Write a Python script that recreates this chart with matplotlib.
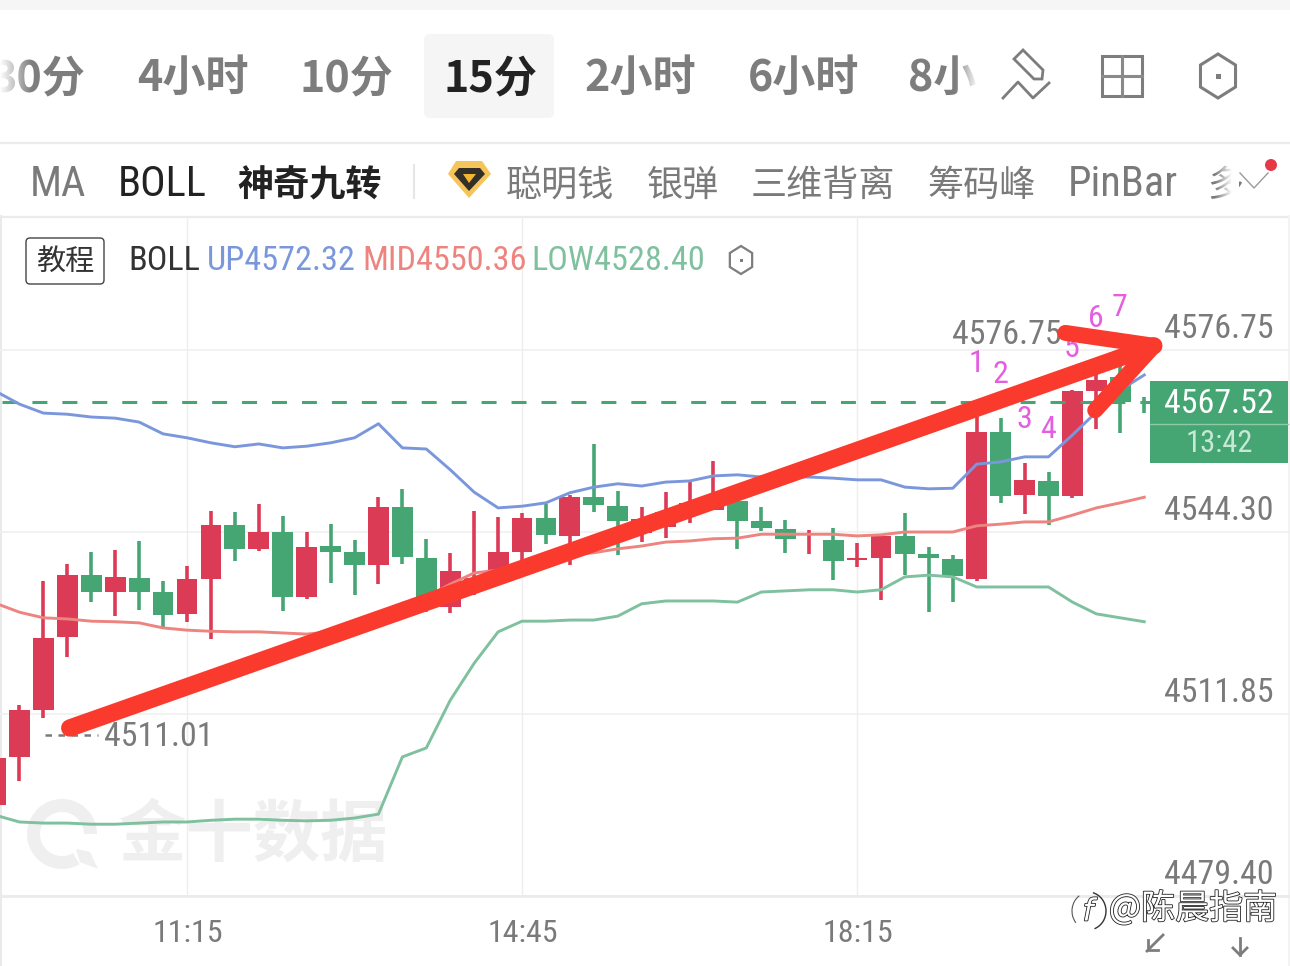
import matplotlib
matplotlib.use("Agg")
import numpy as np
import matplotlib.pyplot as plt
from matplotlib import font_manager
from matplotlib.patches import Rectangle, FancyBboxPatch, Polygon, Wedge, Circle, Arc
import matplotlib.patheffects as pe

# candle data, index 7 = 11:15, one candle = 15 min, "up" candles are red
candle_idx = list(range(-1, 48))
body_top = [4504.0, 4512.6, 4525.4, 4536.6, 4536.6, 4536.3, 4536.1, 4533.6, 4535.9, 4545.5,
            4545.5, 4544.3, 4544.3, 4541.6, 4541.8, 4540.7, 4548.8, 4548.8, 4539.7, 4537.3,
            4536.1, 4540.7, 4546.8, 4546.8, 4550.5, 4550.5, 4548.9, 4546.6, 4547.9, 4549.5,
            4550.5, 4549.8, 4546.3, 4544.8, 4543.1, 4542.9, 4539.7, 4543.6, 4543.6, 4540.4,
            4539.5, 4562.1, 4562.1, 4553.6, 4553.4, 4569.4, 4571.4, 4571.9, 4567.5]
body_bot = [4495.6, 4504.2, 4512.6, 4525.6, 4533.6, 4533.6, 4533.6, 4529.5, 4529.7, 4535.9,
            4541.3, 4541.3, 4532.7, 4532.7, 4540.7, 4538.4, 4538.4, 4539.8, 4532.2, 4530.9,
            4534.0, 4536.6, 4540.7, 4543.8, 4543.6, 4549.1, 4546.3, 4544.1, 4545.2, 4547.3,
            4548.2, 4546.3, 4545.0, 4543.1, 4543.0, 4539.1, 4539.3, 4539.7, 4540.4, 4539.7,
            4536.5, 4535.9, 4550.7, 4550.9, 4550.7, 4550.7, 4569.4, 4567.5, 4567.4]
wick_high = [4504.0, 4513.5, 4535.6, 4538.6, 4540.7, 4541.1, 4542.7, 4535.6, 4538.2, 4548.0,
             4547.9, 4549.3, 4547.2, 4544.3, 4545.7, 4542.9, 4550.5, 4552.0, 4543.1, 4540.6,
             4548.0, 4547.0, 4547.7, 4549.3, 4550.9, 4560.0, 4551.6, 4548.8, 4551.4, 4553.2,
             4557.0, 4550.4, 4548.8, 4546.4, 4544.7, 4545.0, 4542.3, 4543.8, 4547.7, 4541.6,
             4540.2, 4567.3, 4564.6, 4556.6, 4555.0, 4569.6, 4573.2, 4574.1, 4568.4]
wick_low = [4495.6, 4499.9, 4511.1, 4522.0, 4531.8, 4529.3, 4530.4, 4527.2, 4528.3, 4525.2,
            4539.1, 4540.9, 4530.2, 4532.4, 4535.2, 4533.1, 4535.0, 4538.6, 4530.0, 4529.9,
            4533.1, 4534.8, 4538.1, 4542.2, 4538.4, 4547.9, 4540.2, 4542.5, 4543.2, 4545.9,
            4548.2, 4541.3, 4544.5, 4540.6, 4540.4, 4535.7, 4538.1, 4532.2, 4536.6, 4530.0,
            4531.8, 4535.6, 4549.5, 4547.5, 4545.5, 4550.4, 4562.7, 4562.0, 4565.5]
is_up = [1, 1, 1, 1, 0, 1, 0, 0, 1, 1,
         0, 1, 0, 1, 0, 0, 1, 0, 0, 1,
         1, 1, 1, 0, 1, 0, 0, 1, 1, 1,
         1, 0, 0, 0, 1, 0, 1, 1, 0, 0,
         0, 1, 0, 1, 0, 1, 1, 0, 0]

boll_up = [4569.4, 4567.1, 4565.5, 4565.3, 4564.8, 4564.6, 4563.9, 4561.8, 4561.1, 4560.2,
           4559.5, 4560.0, 4559.3, 4559.6, 4560.2, 4561.1, 4563.6, 4559.3, 4559.1, 4555.4,
           4551.4, 4548.6, 4548.9, 4549.5, 4551.3, 4552.3, 4552.9, 4552.5, 4553.2, 4553.4,
           4554.3, 4554.5, 4554.1, 4554.1, 4554.1, 4553.9, 4553.6, 4553.6, 4552.3, 4552.0,
           4552.1, 4556.4, 4556.8, 4557.7, 4557.7, 4561.6, 4565.7, 4569.6, 4572.3]
boll_mid = [4531.6, 4530.0, 4529.0, 4528.8, 4528.4, 4528.3, 4528.1, 4527.2, 4526.8, 4526.6,
            4526.5, 4526.5, 4526.3, 4526.1, 4526.5, 4526.8, 4528.6, 4531.6, 4532.7, 4535.0,
            4537.0, 4537.5, 4538.2, 4538.9, 4540.2, 4540.6, 4541.3, 4541.8, 4542.5, 4542.7,
            4543.1, 4543.2, 4543.9, 4543.9, 4543.9, 4543.9, 4543.6, 4543.8, 4544.3, 4544.3,
            4544.3, 4545.4, 4545.7, 4546.1, 4546.1, 4547.3, 4548.6, 4549.5, 4550.5]
boll_low = [4493.8, 4492.6, 4492.4, 4492.4, 4492.2, 4492.2, 4492.4, 4492.6, 4492.6, 4492.9,
            4493.1, 4493.1, 4492.9, 4492.8, 4492.9, 4493.3, 4494.0, 4504.2, 4505.8, 4514.3,
            4520.9, 4526.5, 4528.4, 4528.4, 4528.6, 4528.6, 4529.3, 4531.5, 4532.0, 4532.0,
            4532.0, 4531.8, 4533.6, 4533.8, 4534.0, 4534.0, 4533.6, 4534.0, 4536.3, 4536.6,
            4536.3, 4534.5, 4534.5, 4534.5, 4534.5, 4531.8, 4529.7, 4529.0, 4528.3]

y_ticks = [4576.75, 4544.30, 4511.85, 4479.40]
y_tick_labels = ["4576.75", "4544.30", "4511.85", "4479.40"]
x_ticks = [7, 21, 35]
x_tick_labels = ["11:15", "14:45", "18:15"]
last_price = 4567.52
high_price = 4576.75
low_price = 4511.01

# the nine-turn counter above the last candles
nine_idx = [40, 41, 42, 43, 44, 45, 46]
nine_price = [4574.4, 4572.4, 4564.4, 4562.6, 4577.1, 4582.4, 4584.4]
nine_text = ["1", "2", "3", "4", "5", "6", "7"]

# hand drawn red arrow, candle index / price
arrow_x = [2.1, 47.4]
arrow_y = [4509.35, 4577.5]
head_x = [43.7, 47.4, 44.95]
head_y = [4579.8, 4577.5, 4566.0]

tabs = ["30分", "4小时", "10分", "15分", "2小时", "6小时", "8小"]
tools = ["MA", "BOLL", "神奇九转", "聪明钱", "银弹", "三维背离", "筹码峰", "PinBar", "多"]

RED = "#DC3B56"
GREEN = "#45A673"
GREY = "#7A7A7A"
C_UP = "#7B97DC"
C_MID = "#EE8480"
C_LOW = "#7FC09F"
ARROW = "#FB3A2E"

CJK = ["Noto Sans CJK SC", "DejaVu Sans"]


def pick_narrow():
    for name in ["Liberation Sans Narrow", "Roboto Condensed", "Liberation Sans"]:
        try:
            font_manager.findfont(name, fallback_to_default=False)
            return name
        except ValueError:
            pass
    return "DejaVu Sans"


NARROW = [pick_narrow(), "DejaVu Sans"]

fig = plt.figure(figsize=(12.9, 9.66), dpi=100, facecolor="white")

# chrome under the chart, in image pixels
bg = fig.add_axes([0, 0, 1, 1], zorder=0)
bg.set_xlim(0, 1290)
bg.set_ylim(966, 0)
bg.axis("off")

# price chart, limits chosen so that one candle is 23.93 px and 32.45 points is 182 px
ax = fig.add_axes([0, 0, 1, 1], zorder=1)
ax.patch.set_visible(False)
ax.set_xlim(-0.814, 53.09)
ax.set_ylim(4466.92, 4639.155)
ax.axis("off")

ui = fig.add_axes([0, 0, 1, 1], zorder=2)
ui.patch.set_visible(False)
ui.set_xlim(0, 1290)
ui.set_ylim(966, 0)
ui.axis("off")

# backgrounds and separators
bg.add_patch(Rectangle((0, 0), 1290, 10, fc="#F6F6F6", ec="none"))
bg.add_patch(FancyBboxPatch((428, 38), 122, 76, boxstyle="round,pad=4,rounding_size=6", fc="#F5F5F5", ec="none"))
bg.plot([0, 1290], [142.5, 142.5], color="#EBEBEB", lw=1.6)
bg.plot([0, 1290], [216.5, 216.5], color="#EBEBEB", lw=1.6)
bg.plot([1, 1], [216, 966], color="#EAEAEA", lw=1.5)
bg.plot([1289, 1289], [216, 966], color="#F3F3F3", lw=1.5)

# grid
for p in y_ticks:
    ax.plot([-0.814, 53.09], [p, p], color="#F0F0F0", lw=1.2, zorder=1)
ax.plot([-0.814, 53.09], [4479.40, 4479.40], color="#EBEBEB", lw=2, zorder=1)
for t in x_ticks:
    ax.plot([t, t], [4479.40, 4600.5], color="#EEEEEE", lw=1.0, zorder=1)

# watermark
bg.add_patch(Wedge((62, 834), 35, 60, 360, width=13, fc="#EFEFEF", ec="none"))
bg.add_patch(Polygon([[76, 849], [90, 852], [98, 869], [80, 862]], fc="#EFEFEF", ec="none"))
bg.text(253, 836, "金十数据", family=CJK, weight="bold", fontsize=48.5, color="#EFEFEF", ha="center", va="center")

# candles
for i, top, bot, hi, lo, up in zip(candle_idx, body_top, body_bot, wick_high, wick_low, is_up):
    col = RED if up else GREEN
    ax.plot([i, i], [lo, hi], color=col, lw=2.6, solid_capstyle="butt", zorder=3)
    ax.bar(i, top - bot, 0.87, bottom=bot, color=col, lw=0, zorder=3)

# bollinger bands
ax.plot(candle_idx, boll_up, color=C_UP, lw=2.1, zorder=4)
ax.plot(candle_idx, boll_mid, color=C_MID, lw=2.1, zorder=4)
ax.plot(candle_idx, boll_low, color=C_LOW, lw=2.1, zorder=4)

# last price line
ax.plot([-0.73, 47.4], [last_price, last_price], color=GREEN, lw=2.2, dashes=(4.9, 4.9), zorder=3)

# high and low markers, drawn a little off the candle they belong to
ax.text(43.55, high_price + 2.65, "4576.75", family=NARROW, fontsize=24.5, color=GREY, ha="right", va="center", zorder=5)
ax.plot([1.05, 3.3], [low_price - 2.9, low_price - 2.9], color=GREY, lw=1.8, dashes=(2.6, 2.6), zorder=5)
ax.text(3.55, low_price - 3.25, "4511.01", family=NARROW, fontsize=24.5, color=GREY, ha="left", va="center", zorder=5)

for i, p, s in zip(nine_idx, nine_price, nine_text):
    ax.text(i - 0.03, p, s, family=NARROW, fontsize=23, color="#E45FE0", ha="center", va="center", zorder=5)

# red arrow over the candles
ax.plot(arrow_x, arrow_y, color=ARROW, lw=12.5, solid_capstyle="round", zorder=6)
ax.plot(head_x, head_y, color=ARROW, lw=11.5, solid_capstyle="round", solid_joinstyle="round", zorder=6)

# right price labels
for p, s in zip(y_ticks, y_tick_labels):
    ax.text(50.1, p + 3.75, s, family=NARROW, fontsize=24.5, color=GREY, ha="center", va="center", zorder=5)

ui.add_patch(Rectangle((1150, 381), 138, 82, fc=GREEN, ec="none"))
ui.plot([1150, 1288], [423.5, 423.5], color="#8CCBA9", lw=1)
ui.text(1218.5, 404, "4567.52", family=NARROW, fontsize=24.5, color="white", ha="center", va="center")
ui.text(1219, 444, "13:42", family=NARROW, fontsize=22, color="#C8E8D6", ha="center", va="center")

# time labels
for t, s in zip(x_ticks, x_tick_labels):
    ax.text(t + 0.05, 4639.155 - 933 * 0.1783, s, family=NARROW, fontsize=23, color=GREY, ha="center", va="center", zorder=5)

# top tabs
tab_right = [86, 248, 393, 537, 696, 859]
for s, r in zip(tabs[:6], tab_right):
    ui.text(r, 78, s, family=CJK, weight="bold", fontsize=31, color="#222222" if s == "15分" else "#7D7D7D", ha="right", va="center")
ui.text(908, 78, tabs[6], family=CJK, weight="bold", fontsize=31, color="#7D7D7D", ha="left", va="center")
fade = np.zeros((1, 64, 4))
fade[..., :3] = 1.0
fade[..., 3] = np.linspace(0, 1, 64)
ui.imshow(fade, extent=(955, 978, 110, 40), aspect="auto", zorder=6)
ui.add_patch(Rectangle((978, 40), 14, 70, fc="white", ec="none", zorder=6))
ui.imshow(fade[:, ::-1], extent=(0, 32, 110, 40), aspect="auto", zorder=6)
ui.imshow(fade, extent=(1215, 1232, 205, 155), aspect="auto", zorder=6)
ui.add_patch(Rectangle((1232, 155), 7, 50, fc="white", ec="none", zorder=6))
ui.set_xlim(0, 1290)
ui.set_ylim(966, 0)

# pencil, grid and hexagon icons
pen = [[1023, 50], [1043, 70], [1042, 79], [1034, 79], [1014, 59]]
ui.add_patch(Polygon(pen, closed=True, fc="none", ec="#7D7D7D", lw=2))
ui.plot([1003, 1018, 1033, 1049], [98, 82, 98, 83], color="#7D7D7D", lw=2)
ui.add_patch(Rectangle((1102, 56), 40, 40, fc="none", ec="#7D7D7D", lw=2.2))
ui.plot([1122, 1122], [56, 96], color="#8A8A8A", lw=2.2)
ui.plot([1102, 1142], [76, 76], color="#8A8A8A", lw=2.2)


def hexagon(cx, cy, r, lw, dot):
    a = np.radians(np.arange(30, 390, 60))
    ui.add_patch(Polygon(np.c_[cx + r * 0.92 * np.cos(a), cy + r * np.sin(a)], closed=True, fc="white", ec="#7D7D7D", lw=lw))
    ui.add_patch(Rectangle((cx - dot / 2, cy - dot / 2), dot, dot, fc="#7D7D7D", ec="none"))


hexagon(1218, 76, 22, 2.2, 5)
hexagon(741, 260, 14, 1.6, 3)


# second row
def tool(x, s, col, cjk=False, weight="normal"):
    ui.text(x, 186 if cjk else 184, s, family=CJK if cjk else NARROW, fontsize=26 if cjk else 30.5, color=col, ha="left", va="center",
            weight=weight)


tool(30, tools[0], GREY)
tool(118, tools[1], "#222222")
tool(237, tools[2], "#222222", cjk=True, weight="bold")
ui.plot([414, 414], [165, 198], color="#E6E6E6", lw=1.5)
ui.add_patch(Polygon([[456, 161], [482, 161], [491, 174], [469, 198], [448, 174]], fc="#F5C55A", ec="none"))
ui.add_patch(Polygon([[459, 168], [480, 168], [485, 174], [469, 191], [454, 174]], fc="#33302A", ec="none"))
ui.add_patch(Polygon([[463, 174], [476, 174], [469, 183]], fc="#F2B632", ec="none"))
tool(506, tools[3], GREY, cjk=True)
tool(647, tools[4], GREY, cjk=True)
tool(751, tools[5], GREY, cjk=True)
tool(927, tools[6], GREY, cjk=True)
tool(1068, tools[7], GREY)
tool(1207, tools[8], GREY, cjk=True)
ui.plot([1240, 1254, 1268], [173, 188, 173], color="#9A9A9A", lw=1, zorder=7)
ui.add_patch(Circle((1271, 165), 6, fc="#E63946", ec="none", zorder=7))

# BOLL legend row
ui.add_patch(FancyBboxPatch((28, 240), 74, 42, boxstyle="round,pad=2,rounding_size=4", fc="white", ec="#444444", lw=1))
ui.text(65, 262, "教程", family=CJK, fontsize=21, color="#333333", ha="center", va="center")
ui.text(128, 261, "BOLL", family=NARROW, fontsize=24.7, color="#333333", ha="left", va="center")
ui.text(207, 261, "UP4572.32", family=NARROW, fontsize=24.7, color=C_UP, ha="left", va="center")
ui.text(362, 261, "MID4550.36", family=NARROW, fontsize=24.7, color=C_MID, ha="left", va="center")
ui.text(531, 261, "LOW4528.40", family=NARROW, fontsize=24.7, color=C_LOW, ha="left", va="center")

# corner watermark and small icons
outline = [pe.withStroke(linewidth=1.2, foreground="#222222")]
ui.text(1193, 909, "@陈晨指南", family=CJK, fontsize=24.5, color="white", ha="center", va="center", path_effects=outline)
ui.text(1088, 912, "f", family="DejaVu Sans", style="italic", fontsize=22, color="white", ha="center", va="center", path_effects=outline)
ui.add_patch(Arc((1088, 911), 36, 38, theta1=-75, theta2=70, color="#333333", lw=1))
ui.add_patch(Arc((1090, 911), 36, 38, theta1=140, theta2=235, color="#555555", lw=0.8))
ui.plot([1147, 1163], [951, 935], color="#7D7D7D", lw=2)
ui.plot([1148, 1148, 1158], [940, 950, 950], color="#7D7D7D", lw=2)
ui.plot([1240, 1240], [938, 955], color="#7D7D7D", lw=2)
ui.plot([1233, 1240, 1247], [948, 955, 948], color="#7D7D7D", lw=2)

fig.savefig("out.png", dpi=100, facecolor="white")
